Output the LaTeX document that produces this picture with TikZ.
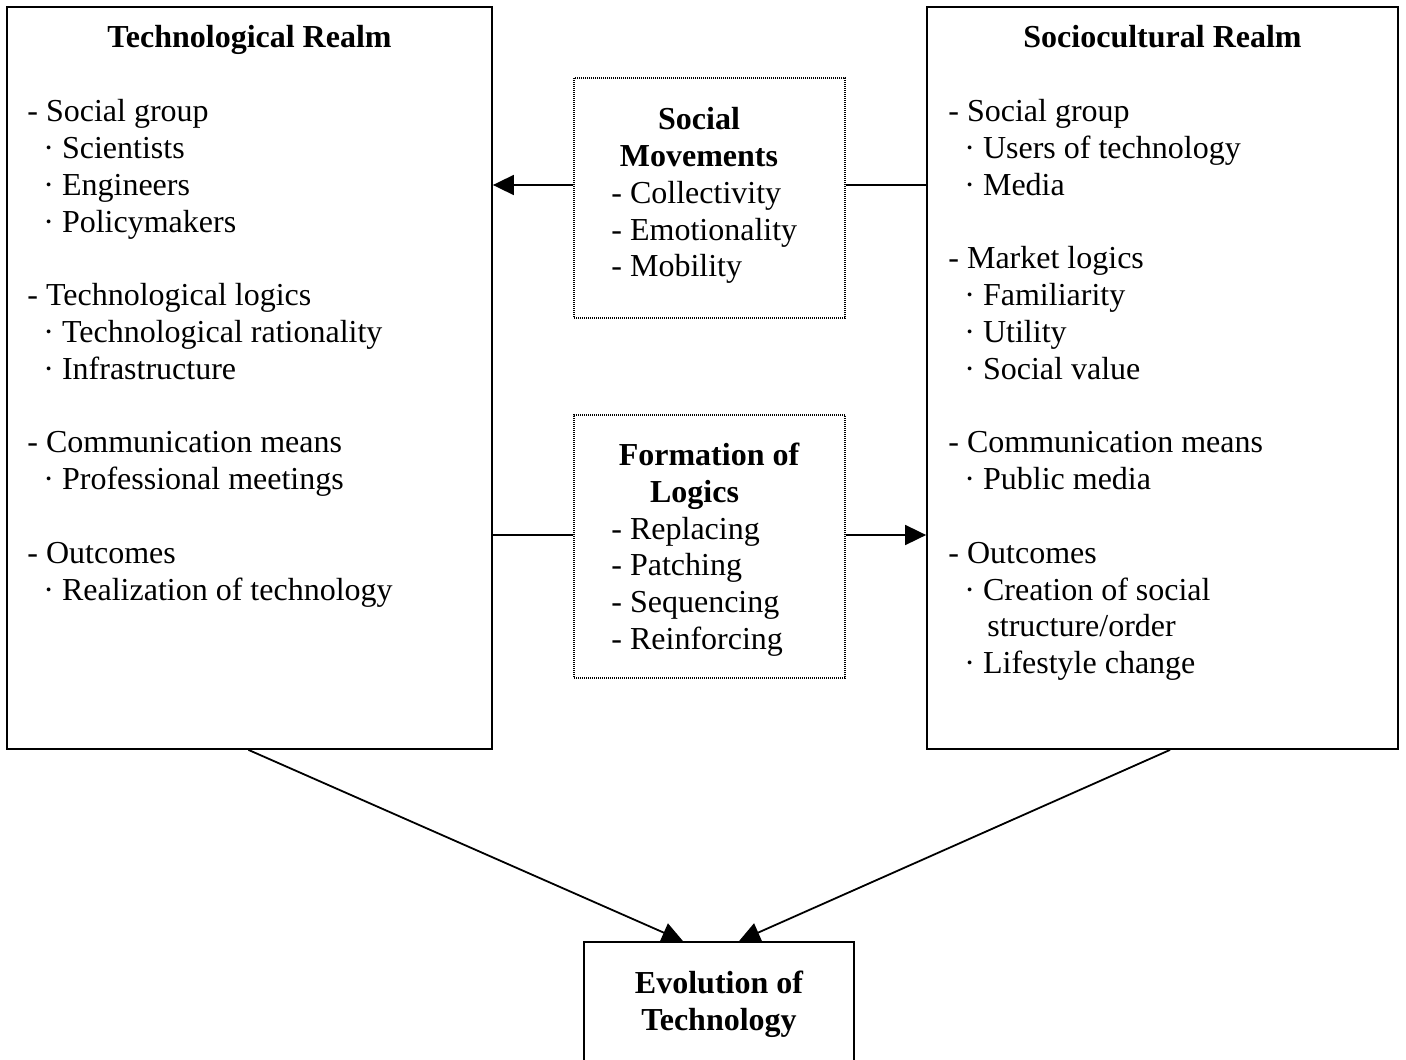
\documentclass[tikz,border=0pt]{standalone}
\usepackage{fontspec}
\setmainfont{Liberation Serif}
\usepackage{tikz}
\usetikzlibrary{positioning, arrows.meta}

\newcommand{\dotitem}{\hspace*{8pt}·~}

\begin{document}
\begin{tikzpicture}[x=0.5pt, y=-0.5pt,
    realm/.style={draw=black, line width=0.9pt, inner sep=0pt, fill=white},
    force/.style={draw=black, line width=0.9pt, dash pattern=on 0.5pt off 0.5pt, inner sep=0pt},
    txt/.style={font=\fontsize{16}{18.4}\selectfont, inner sep=0pt, align=left, anchor=base west},
    head/.style={font=\fontsize{16}{18.4}\selectfont\bfseries, inner sep=0pt, align=center, anchor=base},
    arr/.style={line width=0.9pt, -{Triangle[length=10.5pt, width=10pt]}},
    lin/.style={line width=0.9pt}]
  \clip (0,0) rectangle (1406,1059);

  % the two realms
  \node[realm, minimum width=242.5pt, minimum height=371pt] (tech) at (249.5,378) {};
  \node[realm, minimum width=235.5pt, minimum height=371pt] (socio) at (1162.5,378) {};

  % forces in between
  \node[force, minimum width=135.5pt, minimum height=120pt] (move) at (709.5,198) {};
  \node[force, minimum width=135.5pt, minimum height=131.5pt] (form) at (709.5,546.5) {};

  % texts of the realms (placed at the baseline of their last line)
  \node[head] (techhead) at (249.5,48) {Technological Realm};
  \node[txt] (techlist) at (27,600) {- Social group\\
      \dotitem Scientists\\
      \dotitem Engineers\\
      \dotitem Policymakers\\[18.4pt]
      - Technological logics\\
      \dotitem Technological rationality\\
      \dotitem Infrastructure\\[18.4pt]
      - Communication means\\
      \dotitem Professional meetings\\[18.4pt]
      - Outcomes\\
      \dotitem Realization of technology};

  \node[head] (sociohead) at (1162.5,48) {Sociocultural Realm};
  \node[txt] (sociolist) at (948,673.6) {- Social group\\
      \dotitem Users of technology\\
      \dotitem Media\\[18.4pt]
      - Market logics\\
      \dotitem Familiarity\\
      \dotitem Utility\\
      \dotitem Social value\\[18.4pt]
      - Communication means\\
      \dotitem Public media\\[18.4pt]
      - Outcomes\\
      \dotitem Creation of social\\
      \hspace*{19.5pt}structure/order\\
      \dotitem Lifestyle change};

  % texts of the forces
  \node[head] (movehead) at (699,166.4) {Social\\Movements};
  \node[txt] (movelist) at (611,276.8) {- Collectivity\\- Emotionality\\- Mobility};
  \node[head] (formhead) at (709,502.3) {Formation of\\Logics\hspace*{14.5pt}};
  \node[txt] (formlist) at (611,649.5) {- Replacing\\- Patching\\- Sequencing\\- Reinforcing};

  % links between the boxes
  \draw[arr] ([yshift=6.5pt]move.west) coordinate (mw) -- (mw -| tech.east);
  \draw[lin] ([yshift=6.5pt]move.east) coordinate (me) -- (me -| socio.west);
  \draw[lin] ([yshift=5.75pt]form.west) coordinate (fw) -- (fw -| tech.east);
  \draw[arr] ([yshift=5.75pt]form.east) coordinate (fe) -- (fe -| socio.west);

  % evolution
  \node[realm, minimum width=135pt, minimum height=89pt] (evo) at (719,1031) {};
  \node[head] (evohead) at (719,1030.3) {Evolution of\\Technology};
  \draw[arr] ([xshift=-0.5pt]tech.south) -- ([xshift=-18pt]evo.north);
  \draw[arr] ([xshift=3.75pt]socio.south) -- ([xshift=10pt]evo.north);
\end{tikzpicture}
\end{document}
